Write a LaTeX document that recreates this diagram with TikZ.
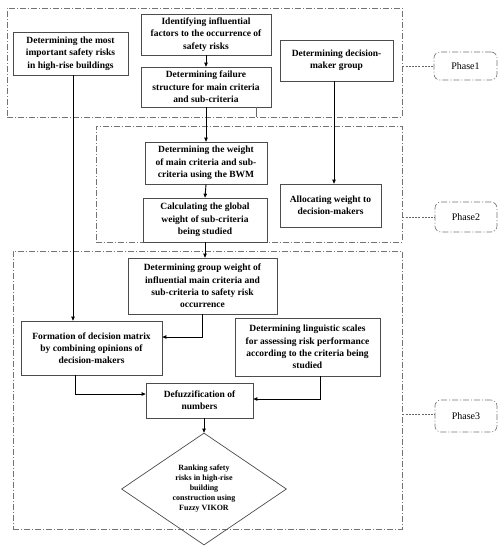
\documentclass[tikz,border=0pt]{standalone}
\usepackage{fontspec}
\setmainfont{Liberation Serif}
\usetikzlibrary{shapes.geometric,arrows.meta}
\begin{document}
\begin{tikzpicture}[x=1pt,y=-1pt,
  box/.style={draw=black!70, line width=0.7pt, align=center, inner sep=1pt,
    font=\fontsize{9.5}{12.3}\selectfont\bfseries},
  phase/.style={draw=black!55, line width=0.6pt, dash pattern=on 6pt off 2pt on 1pt off 2pt, inner sep=0pt},
  plabel/.style={phase, rounded corners=6pt, font=\fontsize{10}{12}\selectfont},
  link/.style={draw=black!60, line width=0.6pt, dash pattern=on 2pt off 1.2pt},
  arr/.style={-{Triangle[length=4pt,width=3.5pt]}, line width=0.9pt, black},
]
\useasboundingbox (0,0) rectangle (504,550);
% phase frames
\node[phase, minimum width=395, minimum height=109] (p1) at (204.5,62.5) {};
\node[phase, minimum width=306, minimum height=116] (p2) at (249,184) {};
\node[phase, minimum width=389, minimum height=278] (p3) at (207.5,390) {};
% phase labels
\node[plabel, minimum width=63, minimum height=28] (l1) at (465.5,66) {Phase1};
\node[plabel, minimum width=62, minimum height=30] (l2) at (466,217) {Phase2};
\node[plabel, minimum width=62, minimum height=32] (l3) at (466,416) {Phase3};
\draw[link] (p1.east |- l1.west) -- (l1.west);
\draw[link] (p2.east |- l2.west) -- (l2.west);
\draw[link] ([yshift=2]p3.east |- l3.west) -- ([yshift=2]l3.west);
% boxes
\node[box, minimum width=115, minimum height=43] (b1) at (70.5,53.5) {Determining the most\\important safety risks\\in high-rise buildings};
\node[box, minimum width=130, minimum height=41] (b2) at (206,34.5) {Identifying influential\\factors to the occurrence of\\safety risks};
\node[box, minimum width=130, minimum height=40] (b3) at (206,87) {Determining failure\\structure for main criteria\\and sub-criteria};
\node[box, minimum width=113, minimum height=41] (b4) at (336.5,60.5) {Determining decision-\\maker group};
\node[box, minimum width=122, minimum height=42] (b5) at (206,163) {Determining the weight\\of main criteria and sub-\\criteria using the BWM};
\node[box, minimum width=124, minimum height=44] (b6) at (205,220) {Calculating the global\\weight of sub-criteria\\being studied};
\node[box, minimum width=101, minimum height=43] (b7) at (330.5,205.5) {Allocating weight to\\decision-makers};
\node[box, minimum width=149, minimum height=56] (b8) at (202.5,286) {Determining group weight of\\influential main criteria and\\sub-criteria to safety risk\\occurrence};
\node[box, minimum width=141, minimum height=54] (b9) at (91.5,348) {Formation of decision matrix\\by combining opinions of\\decision-makers};
\node[box, minimum width=145, minimum height=58] (b10) at (307.5,347) {Determining linguistic scales\\for assessing risk performance\\according to the criteria being\\studied};
\node[box, minimum width=107, minimum height=35] (b11) at (199.5,400.5) {Defuzzification of\\numbers};
\node[draw=black!70, line width=0.7pt, diamond, aspect=1.47, minimum width=165, minimum height=112, inner sep=0pt, align=center,
  font=\fontsize{8}{10}\selectfont\bfseries] (d) at (204,489) {Ranking safety\\risks in high-rise\\building\\construction using\\Fuzzy VIKOR};
% small tick
\draw[draw=black!60, line width=0.6pt] ([xshift=50]b3.south) -- ([xshift=50]b3.south |- p1.south);
% arrows
\draw[arr] ([xshift=2.5]b1.south) -- ([xshift=2.5]b1.south |- b9.north);
\draw[arr] (b2.south) -- (b3.north);
\draw[arr] (b3.south) -- (b5.north);
\draw[arr] ([xshift=-2.5]b4.south) -- ([xshift=-2.5]b4.south |- b7.north);
\draw[arr] (b5.south) -- (b6.north);
\draw[arr] (b6.south) -- (b6.south |- b8.north);
\draw[arr] (b8.south) |- ([yshift=11]b9.east);
\draw[arr] ([xshift=-16.5]b9.south) |- ([yshift=6.5]b11.west);
\draw[arr] ([xshift=12.5]b10.south) |- ([yshift=1.5]b11.east);
\draw[arr] ([xshift=4.5]b11.south) -- (d.north);
\end{tikzpicture}
\end{document}
